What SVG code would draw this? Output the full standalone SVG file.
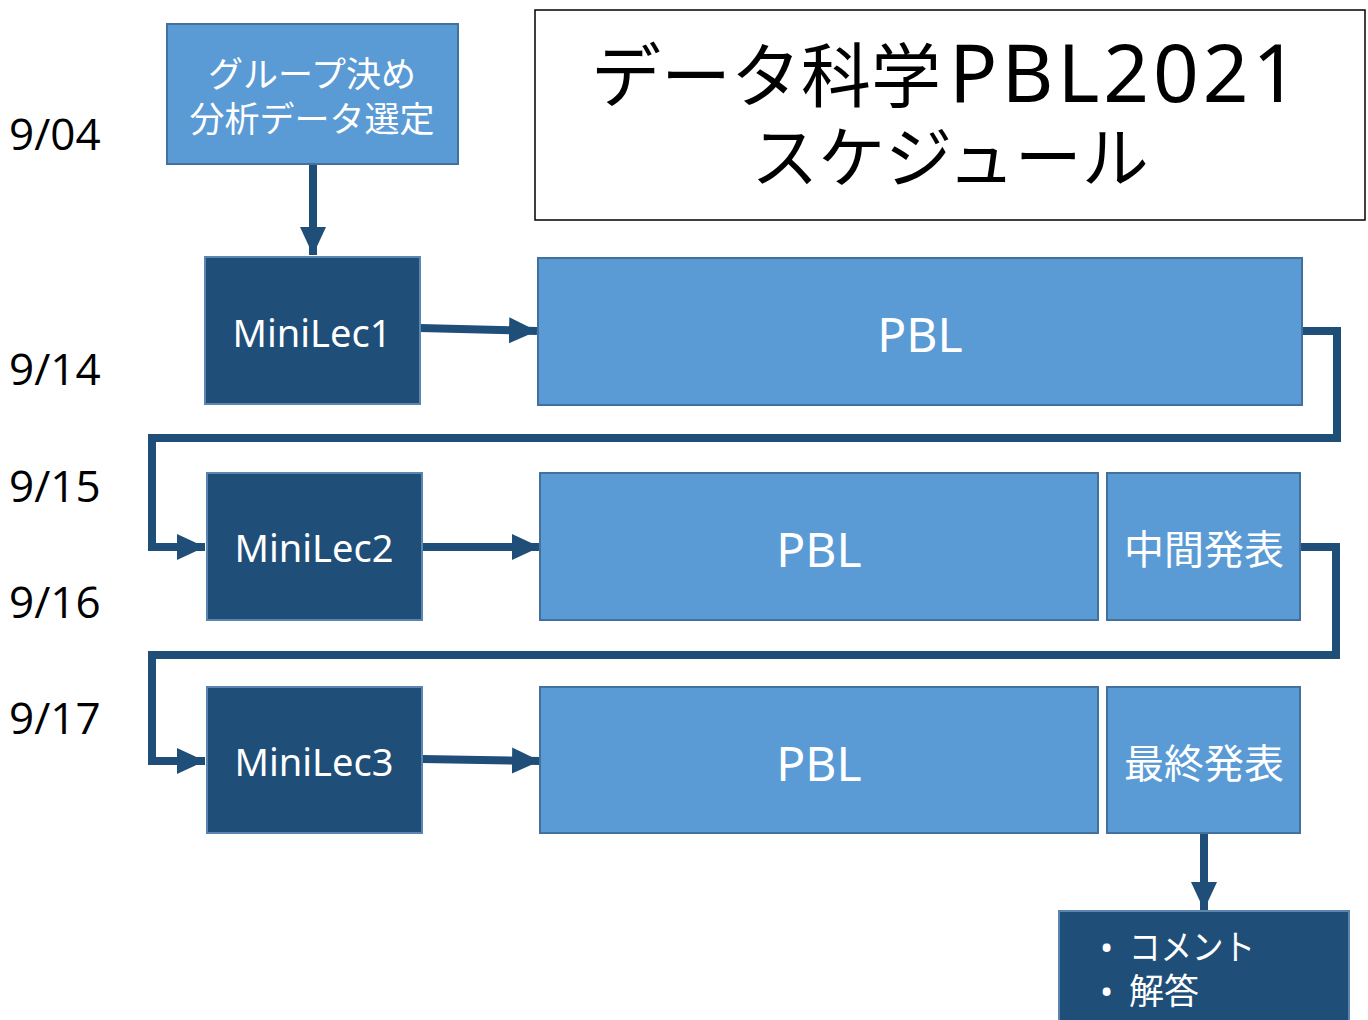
<svg xmlns="http://www.w3.org/2000/svg" width="1368" height="1020" viewBox="0 0 1368 1020">
<defs>
<style>
.light{fill:#5B9BD5;stroke:#41719C;stroke-width:2}
.dark{fill:#1F4E79;stroke:#5B86B0;stroke-width:2}
.t{fill:#fff;font-family:"Noto Sans","Noto Sans CJK JP",sans-serif;text-anchor:middle}
.w{fill:#fff;font-family:"Noto Sans","Noto Sans CJK JP",sans-serif;font-size:35px}
.date{fill:#000;font-family:"Open Sans","Noto Sans",sans-serif;font-size:44px}
.ttl{fill:#000;font-family:"Noto Sans CJK JP",sans-serif}
.c{fill:none;stroke:#1F4E79;stroke-width:8;stroke-linejoin:miter}
</style>
<marker id="ah" markerUnits="userSpaceOnUse" markerWidth="30" markerHeight="30" viewBox="0 0 30 30" refX="28" refY="15" orient="auto">
<path d="M0,2 L28,15 L0,28 Z" fill="#1F4E79"/>
</marker>
</defs>
<rect width="1368" height="1020" fill="#fff"/>
<g id="dates">
<text class="date" x="9" y="150">9/04</text>
<text class="date" x="9" y="385">9/14</text>
<text class="date" x="9" y="502">9/15</text>
<text class="date" x="9" y="618">9/16</text>
<text class="date" x="9" y="734">9/17</text>
</g>
<g id="title">
<rect x="535" y="10" width="830" height="210" fill="#fff" stroke="#000" stroke-width="1.5"/>
<text class="ttl"><tspan x="591" y="102" font-size="70">データ科学</tspan><tspan dx="8" font-family="'Noto Sans',sans-serif" font-size="80" letter-spacing="4">PBL2021</tspan><tspan x="950" y="182" text-anchor="middle" font-size="67">スケジュール</tspan></text>
</g>
<g id="connectors">
<path class="c" d="M313,164 V255" marker-end="url(#ah)"/>
<path class="c" d="M420,328 L537,331" marker-end="url(#ah)"/>
<path class="c" d="M1302,331 H1337 V438 H152 V547 H205" marker-end="url(#ah)"/>
<path class="c" d="M422,547 H540" marker-end="url(#ah)"/>
<path class="c" d="M1300,547 H1336 V655 H152 V761 H205" marker-end="url(#ah)"/>
<path class="c" d="M422,759 L540,761" marker-end="url(#ah)"/>
<path class="c" d="M1204,833 V910" marker-end="url(#ah)"/>
</g>
<g id="start">
<rect class="light" x="167" y="24" width="291" height="140"/>
<text class="t" x="312" y="87" font-size="35">グループ決め</text>
<text class="t" x="312" y="132" font-size="35">分析データ選定</text>
</g>
<g id="minilec1">
<rect class="dark" x="205" y="257" width="215" height="147"/>
<text class="t" x="312" y="347" font-size="38">MiniLec1</text>
</g>
<g id="pbl1">
<rect class="light" x="538" y="258" width="764" height="147"/>
<text class="t" x="920" y="352" font-size="48">PBL</text>
</g>
<g id="minilec2">
<rect class="dark" x="207" y="473" width="215" height="147"/>
<text class="t" x="314" y="562" font-size="38">MiniLec2</text>
</g>
<g id="pbl2">
<rect class="light" x="540" y="473" width="558" height="147"/>
<text class="t" x="819" y="567" font-size="48">PBL</text>
</g>
<g id="chukan">
<rect class="light" x="1107" y="473" width="193" height="147"/>
<text class="t" x="1204" y="564" font-size="40">中間発表</text>
</g>
<g id="minilec3">
<rect class="dark" x="207" y="687" width="215" height="146"/>
<text class="t" x="314" y="776" font-size="38">MiniLec3</text>
</g>
<g id="pbl3">
<rect class="light" x="540" y="687" width="558" height="146"/>
<text class="t" x="819" y="781" font-size="48">PBL</text>
</g>
<g id="saishu">
<rect class="light" x="1107" y="687" width="193" height="146"/>
<text class="t" x="1204" y="778" font-size="40">最終発表</text>
</g>
<g id="comment">
<rect class="dark" x="1059" y="911" width="290" height="120"/>
<text class="w" x="1100" y="960">•</text>
<text class="w" x="1129" y="960" textLength="126" lengthAdjust="spacingAndGlyphs">コメント</text>
<text class="w" x="1100" y="1004">•</text>
<text class="w" x="1129" y="1004">解答</text>
</g>
</svg>
